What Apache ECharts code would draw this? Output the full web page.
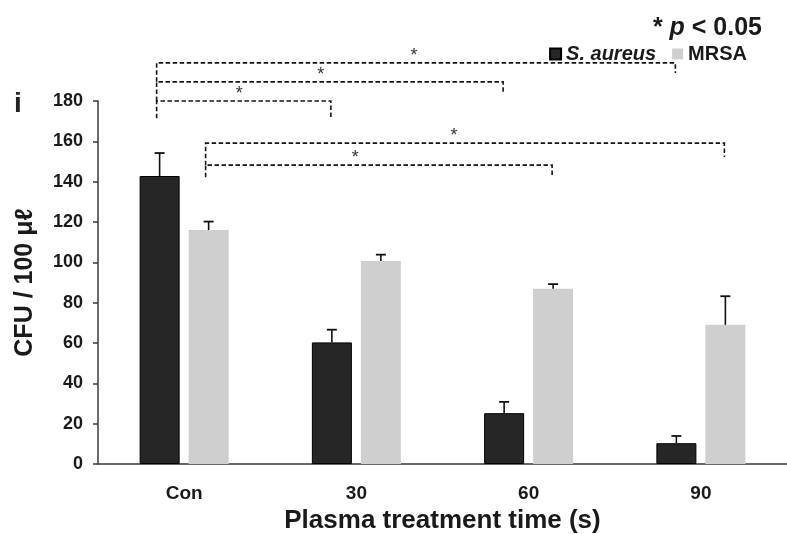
<!DOCTYPE html>
<html><head><meta charset="utf-8">
<script src="https://cdn.jsdelivr.net/npm/echarts@6/dist/echarts.min.js"></script>
<style>html,body{margin:0;padding:0;background:#fff}#c{width:787px;height:534px}</style>
</head><body><div id="c"></div>
<script>
const categories = ['Con', '30', '60', '90'];
const seriesNames = ['S. aureus', 'MRSA'];
const saureus = [142.8, 60.3, 25.2, 10.3];
const saureusErr = [11.4, 6.3, 5.6, 3.6];
const mrsa = [116.0, 100.6, 86.9, 69.0];
const mrsaErr = [4.2, 3.2, 2.3, 14.2];
const yMin = 0, yMax = 180, yInterval = 20;
// significance brackets: [fromCategory, fromSeries, toCategory, toSeries, lineValue, leftTickEnd, rightTickEnd, starFraction]
const brackets = [
  [0, 0, 3, 0, 198.9, 189.5, 193.9, 0.496],
  [0, 0, 2, 0, 189.5, 180.0, 183.5, 0.474],
  [0, 0, 1, 0, 180.0, 171.5, 171.5, 0.474],
  [0, 1, 3, 1, 159.1, 148.2, 152.2, 0.479],
  [0, 1, 2, 1, 148.2, 142.2, 142.7, 0.432]
];

const FONT = "'Liberation Sans', Arial, sans-serif";
const BAR_W = 40, BAR_GAP = 9;
const OFF = (BAR_W + BAR_GAP) / 2;
const TXT = '#1a1a1a';
const AX = '#3a3a3a';

function errRender(seriesIdx) {
  return function (params, api) {
    const cat = api.value(0), v = api.value(1), e = api.value(2);
    const p0 = api.coord([cat, v]);
    const p1 = api.coord([cat, v + e]);
    const x = p0[0] + (seriesIdx === 0 ? -OFF : OFF);
    return {
      type: 'group',
      children: [
        { type: 'line', shape: { x1: x, y1: p0[1], x2: x, y2: p1[1] }, style: { stroke: '#111', lineWidth: 1.6 } },
        { type: 'line', shape: { x1: x - 5, y1: p1[1], x2: x + 5, y2: p1[1] }, style: { stroke: '#111', lineWidth: 1.8 } }
      ]
    };
  };
}

function bracketRender(params, api) {
  const c1 = api.value(0), s1 = api.value(1), c2 = api.value(2), s2 = api.value(3);
  const yv = api.value(4), lEnd = api.value(5), rEnd = api.value(6), frac = api.value(7);
  const pL = api.coord([c1, yv]);
  const pR = api.coord([c2, yv]);
  const xL = pL[0] + (s1 === 0 ? -OFF : OFF) - 3;
  const xR = pR[0] + (s2 === 0 ? -OFF : OFF) - 1;
  const y = pL[1];
  const yL = api.coord([c1, lEnd])[1];
  const yR = api.coord([c2, rEnd])[1];
  const st = { stroke: '#151515', fill: null, lineWidth: 1.6, lineDash: [4.5, 2.5] };
  return {
    type: 'group',
    children: [
      { type: 'polyline', shape: { points: [[xL, yL], [xL, y], [xR, y], [xR, yR]] }, style: st },
      { type: 'text', style: { text: '*', x: xL + (xR - xL) * frac, y: y - 7, align: 'center', verticalAlign: 'middle', font: '18px ' + FONT, fill: '#333' } }
    ]
  };
}

const chart = echarts.init(document.getElementById('c'), null, { renderer: 'canvas' });
chart.setOption({
  animation: false,
  backgroundColor: '#fff',
  textStyle: { fontFamily: FONT },
  grid: { left: 98, right: 0, top: 101, bottom: 70, containLabel: false, outerBoundsMode: 'none' },
  title: {
    text: '{a|* }{p|p}{a| < 0.05}',
    right: 20, top: 11,
    textStyle: {
      rich: {
        a: { fontSize: 25, fontWeight: 'bold', color: TXT, fontFamily: FONT },
        p: { fontSize: 25, fontWeight: 'bold', fontStyle: 'italic', color: TXT, fontFamily: FONT }
      }
    }
  },
  legend: {
    data: seriesNames,
    right: 35, top: 39,
    icon: 'rect', itemWidth: 11, itemHeight: 11, itemGap: 16,
    formatter: function (n) { return n === 'S. aureus' ? '{i|' + n + '}' : '{b|' + n + '}'; },
    textStyle: {
      fontSize: 20, fontWeight: 'bold', color: TXT, fontFamily: FONT,
      rich: {
        i: { fontSize: 20, fontWeight: 'bold', fontStyle: 'italic', color: TXT, fontFamily: FONT },
        b: { fontSize: 20, fontWeight: 'bold', color: TXT, fontFamily: FONT }
      }
    }
  },
  graphic: [
    { type: 'text', left: 14, top: 90, style: { text: 'i', font: 'bold 28px ' + FONT, fill: '#222' } }
  ],
  xAxis: {
    type: 'category',
    data: categories,
    name: 'Plasma treatment time (s)',
    nameLocation: 'middle',
    nameGap: 44,
    nameTextStyle: { fontSize: 26, fontWeight: 'bold', color: TXT, fontFamily: FONT },
    axisLine: { lineStyle: { color: AX, width: 1.5 } },
    axisTick: { show: false },
    axisLabel: { fontSize: 19, fontWeight: 'bold', color: TXT, margin: 20, fontFamily: FONT }
  },
  yAxis: {
    type: 'value',
    min: yMin, max: yMax, interval: yInterval,
    name: 'CFU / 100 μℓ',
    nameLocation: 'middle',
    nameGap: 60,
    nameTextStyle: { fontSize: 25, fontWeight: 'bold', color: TXT, fontFamily: FONT },
    axisLine: { show: true, lineStyle: { color: AX, width: 1.5 } },
    axisTick: { show: true, length: 5, lineStyle: { color: AX, width: 1.5 } },
    splitLine: { show: false },
    axisLabel: { fontSize: 18, fontWeight: 'bold', color: TXT, margin: 15, fontFamily: FONT }
  },
  series: [
    {
      name: seriesNames[0], type: 'bar', data: saureus,
      barWidth: BAR_W, barGap: (BAR_GAP / BAR_W * 100) + '%',
      itemStyle: { color: '#262626', borderColor: '#000', borderWidth: 1 }
    },
    {
      name: seriesNames[1], type: 'bar', data: mrsa,
      barWidth: BAR_W,
      itemStyle: { color: '#d0cfcf' }
    },
    {
      type: 'custom', name: 'errA', z: 5, clip: false,
      renderItem: errRender(0),
      data: saureus.map((v, i) => [i, v, saureusErr[i]])
    },
    {
      type: 'custom', name: 'errB', z: 5, clip: false,
      renderItem: errRender(1),
      data: mrsa.map((v, i) => [i, v, mrsaErr[i]])
    },
    {
      type: 'custom', name: 'sig', z: 6, clip: false,
      renderItem: bracketRender,
      data: brackets
    }
  ]
});
</script>
</body></html>
